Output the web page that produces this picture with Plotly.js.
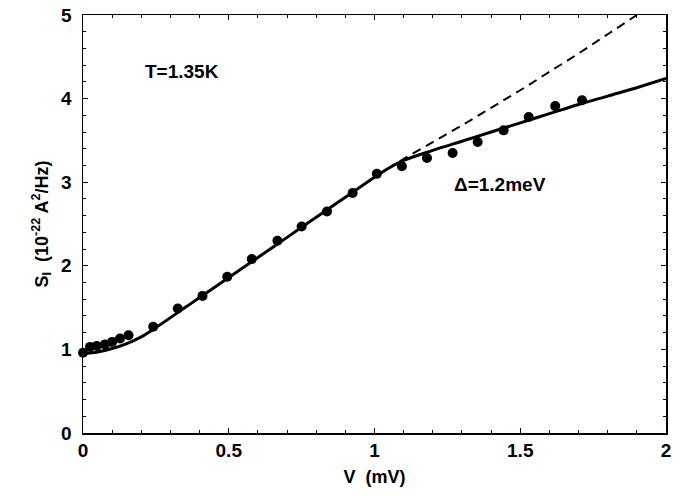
<!DOCTYPE html>
<html>
<head>
<meta charset="utf-8">
<script src="https://cdn.plot.ly/plotly-3.0.1.min.js"></script>
<style>html,body{margin:0;padding:0;background:#fff;}#chart{width:674px;height:496px;}</style>
</head>
<body>
<div id="chart"></div>
<script>
// Measured points
const dataV = [0, 0.024, 0.047, 0.075, 0.10, 0.127, 0.156, 0.241, 0.325, 0.41, 0.495, 0.579, 0.667, 0.75, 0.837, 0.925, 1.008, 1.094, 1.18, 1.268, 1.354, 1.443, 1.529, 1.62, 1.712];
const dataS = [0.96, 1.03, 1.04, 1.06, 1.09, 1.13, 1.17, 1.27, 1.49, 1.64, 1.87, 2.08, 2.30, 2.47, 2.65, 2.87, 3.10, 3.19, 3.29, 3.35, 3.48, 3.62, 3.78, 3.91, 3.98];

// Theory, Delta = 1.2 meV (solid)
const fitV = [0, 0.05, 0.1, 0.15, 0.2, 0.25, 0.3, 0.35, 0.4, 0.5, 0.6, 0.7, 0.8, 0.9, 1.0, 1.05, 1.1, 1.2, 1.3, 1.4, 1.5, 1.6, 1.7, 1.8, 1.9, 2.0];
const fitS = [0.95, 0.97, 1.01, 1.07, 1.15, 1.26, 1.38, 1.50, 1.62, 1.86, 2.10, 2.34, 2.58, 2.82, 3.06, 3.17, 3.26, 3.38, 3.49, 3.60, 3.71, 3.82, 3.93, 4.03, 4.13, 4.24];

// Theory without gap (dashed)
const dashV = [1.0, 1.05, 1.1, 1.2, 1.3, 1.4, 1.5, 1.6, 1.7, 1.8, 1.9];
const dashS = [3.06, 3.17, 3.28, 3.48, 3.68, 3.89, 4.10, 4.32, 4.54, 4.77, 5.0];

const xTicks = [0, 0.5, 1, 1.5, 2];
const xTickText = ['0', '0.5', '1', '1.5', '2'];
const yTicks = [0, 1, 2, 3, 4, 5];

const fontFam = '"Liberation Sans", Arial, sans-serif';
const boldFont = (s) => ({family: fontFam, size: s, color: '#000', weight: 700});

const traces = [
  {x: fitV, y: fitS, mode: 'lines', line: {color: '#000', width: 3, shape: 'spline'}, hoverinfo: 'skip'},
  {x: dashV, y: dashS, mode: 'lines', line: {color: '#000', width: 2, dash: '9px,6px', shape: 'spline'}, hoverinfo: 'skip'},
  {x: dataV, y: dataS, mode: 'markers', marker: {color: '#000', size: 10, symbol: 'circle'}, cliponaxis: false}
];

const axisCommon = {
  showgrid: false, zeroline: false, showline: true, linecolor: '#000', linewidth: 1.5,
  mirror: 'allticks', ticks: 'inside', ticklen: 5, tickwidth: 1.2, tickcolor: '#000',
  tickfont: boldFont(19)
};

const layout = {
  width: 674, height: 496,
  margin: {l: 83, r: 8, t: 15, b: 63},
  paper_bgcolor: '#fff', plot_bgcolor: '#fff',
  showlegend: false,
  xaxis: Object.assign({}, axisCommon, {
    range: [0, 2], tickvals: xTicks, ticktext: xTickText,
    minor: {dtick: 0.1, ticks: 'inside', ticklen: 3, tickwidth: 1, tickcolor: '#000'},
    title: {text: 'V  (mV)', font: boldFont(18), standoff: 10}
  }),
  yaxis: Object.assign({}, axisCommon, {
    range: [0, 5], tickvals: yTicks, ticklabelstandoff: 6,
    minor: {dtick: 0.2, ticks: 'inside', ticklen: 3, tickwidth: 1, tickcolor: '#000'},
    title: {text: 'S<sub>I</sub>  (10<sup>-22</sup> A<sup>2</sup>/Hz)', font: boldFont(18), standoff: 8}
  }),
  annotations: [
    {x: 0.206, y: 4.32, xref: 'x', yref: 'y', text: 'T=1.35K', showarrow: false, xanchor: 'left', yanchor: 'middle',
     font: boldFont(19)},
    {x: 1.267, y: 2.97, xref: 'x', yref: 'y', text: 'Δ=1.2meV', showarrow: false, xanchor: 'left', yanchor: 'middle',
     font: boldFont(19)}
  ]
};

Plotly.newPlot('chart', traces, layout, {staticPlot: true, displayModeBar: false});
</script>
</body>
</html>
